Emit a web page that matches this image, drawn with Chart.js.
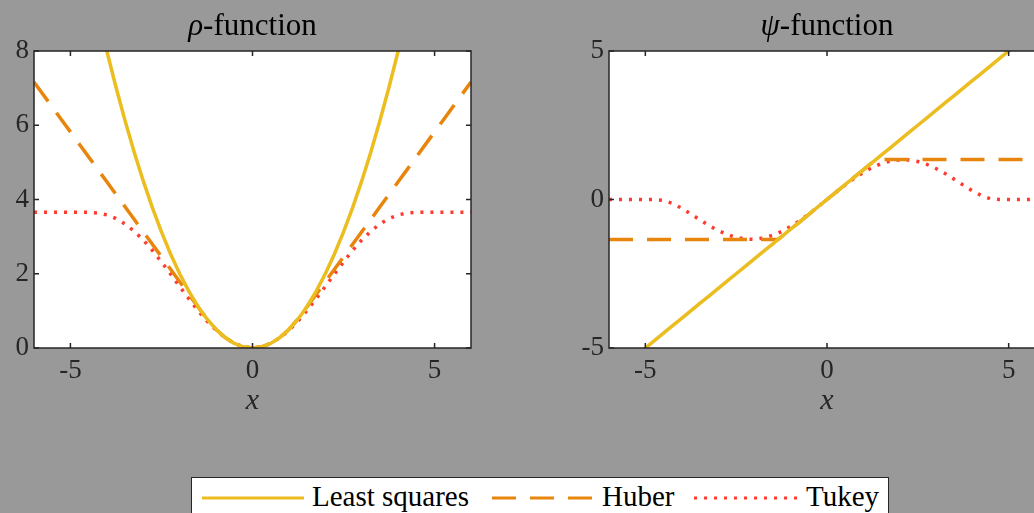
<!DOCTYPE html>
<html>
<head>
<meta charset="utf-8">
<script src="https://cdn.jsdelivr.net/npm/chart.js@4.4.1/dist/chart.umd.min.js"></script>
<style>
    html, body { margin: 0; padding: 0; }
    body { width: 1034px; height: 513px; background: #999999; overflow: hidden; position: relative; font-family: "Liberation Serif", serif; }
    .panel { position: absolute; top: 0; }
    #legend { position: absolute; left: 191px; top: 477px; width: 698px; height: 50px; background: #fff; border: 1px solid #262626; box-sizing: border-box; }
    #legend svg { position: absolute; left: 0; top: 0; }
    #legend span { position: absolute; top: 3px; font-size: 29px; line-height: 31px; color: #000; white-space: nowrap; }
</style>
</head>
<body>
<canvas id="rhoChart" class="panel" style="left:0px" width="520" height="440"></canvas>
<canvas id="psiChart" class="panel" style="left:560px" width="520" height="440"></canvas>
<div id="legend">
    <svg width="698" height="50">
        <line x1="10" y1="20" x2="112" y2="20" stroke="#EBBD1E" stroke-width="3"/>
        <line x1="300" y1="20" x2="402" y2="20" stroke="#E8850C" stroke-width="3" stroke-dasharray="24 14"/>
        <line x1="502" y1="20" x2="607" y2="20" stroke="#FF3B2F" stroke-width="3" stroke-dasharray="3 7"/>
    </svg>
    <span style="left:120px">Least squares</span>
    <span style="left:410px">Huber</span>
    <span style="left:614px">Tukey</span>
</div>
<script>
// x positions shared by every curve
const xValues = [-6, -5.75, -5.5, -5.25, -5, -4.75, -4.5, -4.25, -4, -3.75, -3.5, -3.25, -3, -2.75, -2.5, -2.25, -2, -1.75, -1.5, -1.345, -1.25, -1, -0.75, -0.5, -0.25,
    0, 0.25, 0.5, 0.75, 1, 1.25, 1.345, 1.5, 1.75, 2, 2.25, 2.5, 2.75, 3, 3.25, 3.5, 3.75, 4, 4.25, 4.5, 4.75, 5, 5.25, 5.5, 5.75, 6];

// rho-function values
const rhoLeastSquares = [18, 16.531, 15.125, 13.781, 12.5, 11.281, 10.125, 9.031, 8, 7.031, 6.125, 5.281, 4.5, 3.781, 3.125, 2.531, 2, 1.531, 1.125, 0.905, 0.781, 0.5, 0.281, 0.125, 0.031,
    0, 0.031, 0.125, 0.281, 0.5, 0.781, 0.905, 1.125, 1.531, 2, 2.531, 3.125, 3.781, 4.5, 5.281, 6.125, 7.031, 8, 9.031, 10.125, 11.281, 12.5, 13.781, 15.125, 16.531, 18];
const rhoHuber = [7.165, 6.829, 6.493, 6.157, 5.821, 5.484, 5.148, 4.812, 4.476, 4.139, 3.803, 3.467, 3.131, 2.794, 2.458, 2.122, 1.786, 1.449, 1.113, 0.905, 0.781, 0.5, 0.281, 0.125, 0.031,
    0, 0.031, 0.125, 0.281, 0.5, 0.781, 0.905, 1.113, 1.449, 1.786, 2.122, 2.458, 2.794, 3.131, 3.467, 3.803, 4.139, 4.476, 4.812, 5.148, 5.484, 5.821, 6.157, 6.493, 6.829, 7.165];
const rhoTukey = [3.658, 3.658, 3.658, 3.658, 3.658, 3.658, 3.656, 3.638, 3.585, 3.488, 3.342, 3.147, 2.907, 2.628, 2.320, 1.992, 1.658, 1.328, 1.014, 0.832, 0.727, 0.478, 0.274, 0.124, 0.031,
    0, 0.031, 0.124, 0.274, 0.478, 0.727, 0.832, 1.014, 1.328, 1.658, 1.992, 2.320, 2.628, 2.907, 3.147, 3.342, 3.488, 3.585, 3.638, 3.656, 3.658, 3.658, 3.658, 3.658, 3.658, 3.658];

// psi-function values
const psiLeastSquares = [-6, -5.75, -5.5, -5.25, -5, -4.75, -4.5, -4.25, -4, -3.75, -3.5, -3.25, -3, -2.75, -2.5, -2.25, -2, -1.75, -1.5, -1.345, -1.25, -1, -0.75, -0.5, -0.25,
    0, 0.25, 0.5, 0.75, 1, 1.25, 1.345, 1.5, 1.75, 2, 2.25, 2.5, 2.75, 3, 3.25, 3.5, 3.75, 4, 4.25, 4.5, 4.75, 5, 5.25, 5.5, 5.75, 6];
const psiHuber = [-1.345, -1.345, -1.345, -1.345, -1.345, -1.345, -1.345, -1.345, -1.345, -1.345, -1.345, -1.345, -1.345, -1.345, -1.345, -1.345, -1.345, -1.345, -1.345, -1.345, -1.25, -1, -0.75, -0.5, -0.25,
    0, 0.25, 0.5, 0.75, 1, 1.25, 1.345, 1.345, 1.345, 1.345, 1.345, 1.345, 1.345, 1.345, 1.345, 1.345, 1.345, 1.345, 1.345, 1.345, 1.345, 1.345, 1.345, 1.345, 1.345, 1.345];
const psiTukey = [0, 0, 0, 0, 0, 0, -0.027, -0.133, -0.294, -0.484, -0.683, -0.875, -1.044, -1.181, -1.279, -1.332, -1.338, -1.296, -1.208, -1.132, -1.078, -0.911, -0.712, -0.489, -0.249,
    0, 0.249, 0.489, 0.712, 0.911, 1.078, 1.132, 1.208, 1.296, 1.338, 1.332, 1.279, 1.181, 1.044, 0.875, 0.683, 0.484, 0.294, 0.133, 0.027, 0, 0, 0, 0, 0, 0];

const xTicks = [-5, 0, 5];
const rhoTicks = [0, 2, 4, 6, 8];
const psiTicks = [-5, 0, 5];

const seriesNames = ['Least squares', 'Huber', 'Tukey'];
const seriesColors = ['#EBBD1E', '#E8850C', '#FF3B2F'];
const seriesDash = [[], [24, 14], [3, 7]];

const FONT = '"Liberation Serif", "DejaVu Serif", serif';
const AXIS_COLOR = '#262626';

function toPoints(ys) {
    return xValues.map((x, i) => ({ x: x, y: ys[i] }));
}

function tickLabel(v) {
    return v < 0 ? '-' + Math.abs(v) : String(v);
}

// white axes box, inward ticks on all four sides, and the panel title
const framePlugin = {
    id: 'frame',
    beforeDraw(chart) {
        const { ctx, chartArea: a } = chart;
        ctx.save();
        ctx.fillStyle = '#ffffff';
        ctx.fillRect(a.left, a.top, a.right - a.left, a.bottom - a.top);
        ctx.restore();
    },
    afterDraw(chart, args, opts) {
        const { ctx, chartArea: a, scales: { x, y } } = chart;
        ctx.save();
        ctx.strokeStyle = AXIS_COLOR;
        ctx.lineWidth = 1.5;
        ctx.strokeRect(a.left, a.top, a.right - a.left, a.bottom - a.top);
        ctx.beginPath();
        x.ticks.forEach(t => {
            const px = x.getPixelForValue(t.value);
            ctx.moveTo(px, a.bottom); ctx.lineTo(px, a.bottom - 5);
            ctx.moveTo(px, a.top); ctx.lineTo(px, a.top + 5);
        });
        y.ticks.forEach(t => {
            const py = y.getPixelForValue(t.value);
            ctx.moveTo(a.left, py); ctx.lineTo(a.left + 5, py);
            ctx.moveTo(a.right, py); ctx.lineTo(a.right - 5, py);
        });
        ctx.stroke();

        // title: italic greek letter + "-function"
        const italic = 'italic 31px ' + FONT;
        const roman = '31px ' + FONT;
        ctx.font = italic;
        const w1 = ctx.measureText(opts.symbol).width;
        ctx.font = roman;
        const w2 = ctx.measureText('-function').width;
        const cx = (a.left + a.right) / 2;
        let tx = cx - (w1 + w2) / 2;
        ctx.fillStyle = '#000';
        ctx.textBaseline = 'alphabetic';
        ctx.textAlign = 'left';
        ctx.font = italic;
        ctx.fillText(opts.symbol, tx, 35);
        ctx.font = roman;
        ctx.fillText('-function', tx + w1, 35);
        ctx.restore();
    }
};

function buildChart(canvasId, series, yMin, yMax, yTicks, symbol, yWidth, padRight) {
    const datasets = series.map((ys, i) => ({
        label: seriesNames[i],
        data: toPoints(ys),
        borderColor: seriesColors[i],
        borderWidth: 3.5,
        borderDash: seriesDash[i],
        borderCapStyle: 'butt',
        pointRadius: 0,
        tension: 0,
        fill: false
    }));

    return new Chart(document.getElementById(canvasId), {
        type: 'line',
        data: { datasets: datasets },
        options: {
            responsive: false,
            animation: false,
            events: [],
            layout: { padding: { top: 51, right: padRight, bottom: 0, left: 0 } },
            plugins: {
                legend: { display: false },
                tooltip: { enabled: false },
                frame: { symbol: symbol }
            },
            scales: {
                x: {
                    type: 'linear',
                    min: -6,
                    max: 6,
                    grid: { display: false, drawTicks: false },
                    border: { display: false },
                    afterBuildTicks: s => { s.ticks = xTicks.map(v => ({ value: v })); },
                    afterFit: s => { s.height = 92; },
                    ticks: {
                        padding: 7,
                        color: AXIS_COLOR,
                        font: { family: FONT, size: 27 },
                        maxRotation: 0,
                        callback: v => tickLabel(v)
                    },
                    title: {
                        display: true,
                        text: 'x',
                        color: AXIS_COLOR,
                        font: { family: FONT, size: 30, style: 'italic' },
                        padding: { top: 0, bottom: 21 }
                    }
                },
                y: {
                    type: 'linear',
                    min: yMin,
                    max: yMax,
                    grid: { display: false, drawTicks: false },
                    border: { display: false },
                    afterBuildTicks: s => { s.ticks = yTicks.map(v => ({ value: v })); },
                    afterFit: s => { s.width = yWidth; },
                    ticks: {
                        padding: 5,
                        color: AXIS_COLOR,
                        font: { family: FONT, size: 27 },
                        callback: v => tickLabel(v)
                    }
                }
            }
        },
        plugins: [framePlugin]
    });
}

buildChart('rhoChart', [rhoLeastSquares, rhoHuber, rhoTukey], 0, 8, rhoTicks, '\u03C1', 34, 49);
buildChart('psiChart', [psiLeastSquares, psiHuber, psiTukey], -5, 5, psiTicks, '\u03C8', 49, 35);
</script>
</body>
</html>
